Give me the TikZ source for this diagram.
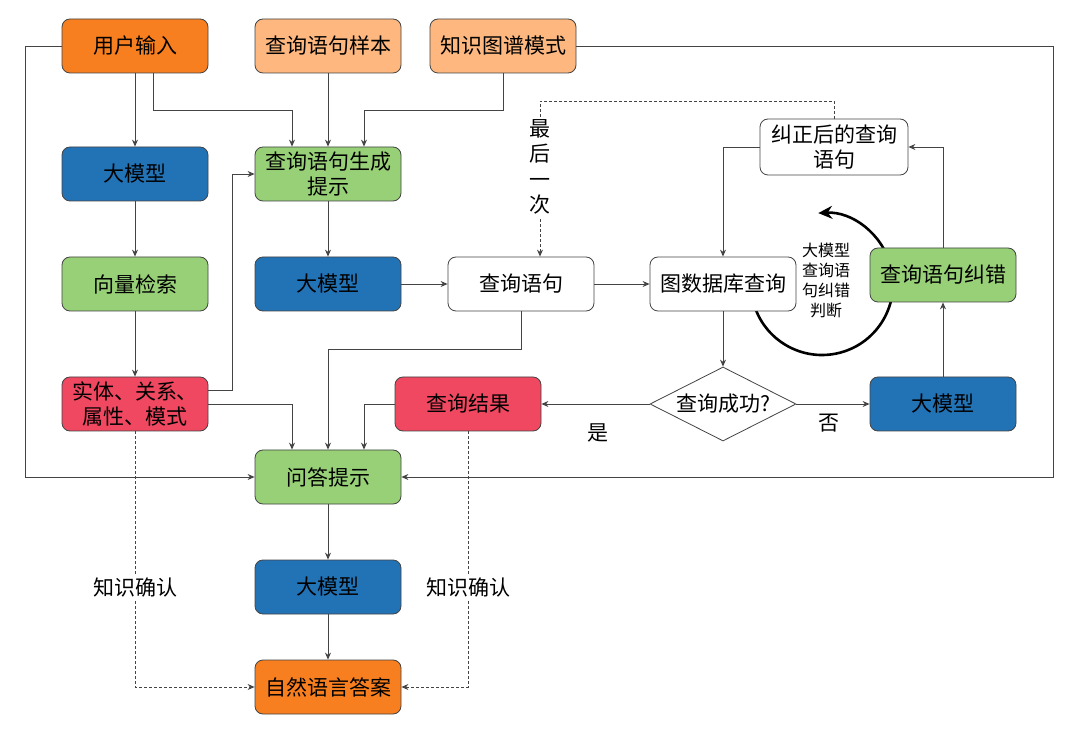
\documentclass[tikz,border=0pt]{standalone}
\usepackage{fontspec}
\setmainfont{Noto Sans CJK SC}
\usetikzlibrary{arrows.meta,shapes.geometric}
\definecolor{cOrange}{HTML}{F77F1F}
\definecolor{cLOrange}{HTML}{FDB77F}
\definecolor{cBlue}{HTML}{2272B6}
\definecolor{cGreen}{HTML}{97D077}
\definecolor{cRed}{HTML}{EF4860}
\definecolor{cLine}{HTML}{444444}
\begin{document}
\begin{tikzpicture}[x=1pt,y=-1pt,
 box/.style={draw=cLine, rounded corners=8pt, minimum width=146pt, minimum height=54pt, inner sep=2pt, align=center, font=\fontsize{21}{27}\selectfont, line width=0.8pt},
 ar/.style={draw=cLine, line width=0.9pt, -{Stealth[length=7pt,width=6pt]}},
 dot/.style={ar, dash pattern=on 2.5pt off 2.5pt},
 lbl/.style={font=\fontsize{21}{26}\selectfont, fill=white, inner sep=2pt, align=center},
 small/.style={font=\fontsize{16}{20}\selectfont, align=center, inner sep=0pt}
]
\useasboundingbox[fill=white] (0,0) rectangle (1080,735);

% curved arrow (drawn first so boxes cover its ends)
\begin{scope}[shift={(822,284)}, y=1pt]
\draw[line width=2.6pt, -{Stealth[length=14pt,width=13pt]}] (-165:71pt) arc[start angle=-165, end angle=93, radius=71pt];
\end{scope}

% nodes
\node[box, fill=cOrange]  (u)   at (135,46)  {用户输入};
\node[box, fill=cLOrange] (s)   at (328,46)  {查询语句样本};
\node[box, fill=cLOrange] (k)   at (503,46)  {知识图谱模式};
\node[box, fill=cBlue]    (m1)  at (135,174) {大模型};
\node[box, fill=cGreen]   (p)   at (328,174) {查询语句生成\\[-2pt]提示};
\node[box, fill=white, minimum width=148pt, minimum height=56pt] (c) at (834,147) {纠正后的查询\\[-2pt]语句};
\node[box, fill=cGreen]   (v)   at (135,284) {向量检索};
\node[box, fill=cBlue]    (m2)  at (328,284) {大模型};
\node[box, fill=white]    (q)   at (521,284) {查询语句};
\node[box, fill=white]    (g)   at (723,284) {图数据库查询};
\node[box, fill=cGreen]   (e)   at (943,275) {查询语句纠错};
\node[box, fill=cRed]     (r)   at (135,404) {实体、关系、\\[-2pt]属性、模式};
\node[box, fill=cRed]     (res) at (468,404) {查询结果};
\node[draw=cLine, line width=0.8pt, diamond, aspect=2, minimum width=146pt, minimum height=74pt, inner sep=0pt, font=\fontsize{21}{26}\selectfont] (d) at (723,404) {查询成功?};
\node[box, fill=cBlue]    (m3)  at (943,404) {大模型};
\node[box, fill=cGreen]   (a)   at (328,477) {问答提示};
\node[box, fill=cBlue]    (m4)  at (328,587) {大模型};
\node[box, fill=cOrange]  (n)   at (328,687) {自然语言答案};

\node[small] (judge) at (826,280) {大模型\\查询语\\句纠错\\判断};

% connectors
\draw[ar] (u.west) -- (25,46) |- (a.west);
\draw[ar] (k.east) -- (1053,46) |- (a.east);
\draw[ar] (u.south) -- (m1.north);
\draw[ar] ([xshift=18pt]u.south) |- (292,110) -- ([xshift=-36pt]p.north);
\draw[ar] (s.south) -- (p.north);
\draw[ar] (k.south) |- (364,110) -- ([xshift=36pt]p.north);
\draw[ar] (m1.south) -- (v.north);
\draw[ar] (v.south) -- (r.north);
\draw[ar] ([yshift=14pt]r.east) -- (232,390) |- (p.west);
\draw[ar] (r.east) -| ([xshift=-36pt]a.north);
\draw[ar] (p.south) -- (m2.north);
\draw[ar] (m2.east) -- (q.west);
\draw[ar] (q.south) |- (328,349) -- (a.north);
\draw[ar] (res.west) -| ([xshift=36pt]a.north);
\draw[ar] (q.east) -- (g.west);
\draw[ar] (g.south) -- (d.north);
\draw[ar] (d.west) -- (res.east);
\draw[ar] (d.east) -- (m3.west);
\draw[ar] (m3.north) -- (e.south);
\draw[ar] (e.north) |- (c.east);
\draw[ar] (c.west) -| (g.north);
\draw[dot] (c.north) |- (540,101) -- ([xshift=19pt]q.north);
\draw[dot] (r.south) |- (n.west);
\draw[dot] (res.south) |- (n.east);
\draw[ar] (a.south) -- (m4.north);
\draw[ar] (m4.south) -- (n.north);

% labels
\node[lbl, font=\fontsize{21}{25.5}\selectfont] (last) at (540,167) {最\\后\\一\\次};
\node[lbl] (yes) at (598,433) {是};
\node[lbl] (no)  at (829,423) {否};
\node[lbl] (kc1) at (135,587) {知识确认};
\node[lbl] (kc2) at (468,587) {知识确认};
\end{tikzpicture}
\end{document}
